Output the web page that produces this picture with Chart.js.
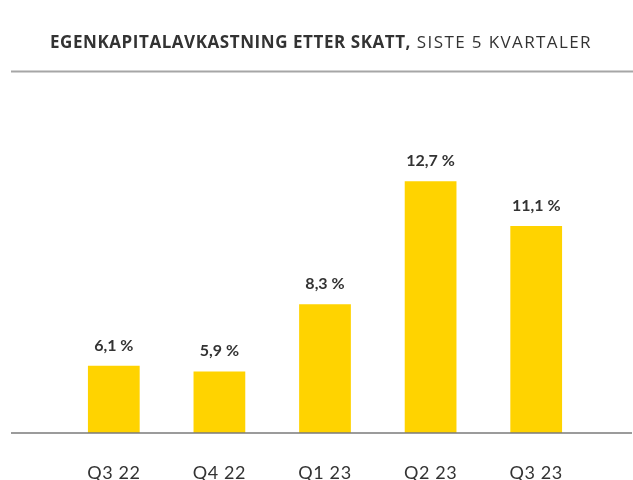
<!DOCTYPE html>
<html>
<head>
<meta charset="utf-8">
<script src="https://cdn.jsdelivr.net/npm/chart.js@4/dist/chart.umd.min.js"></script>
<style>
  html, body { margin: 0; padding: 0; background: #fff; }
  #wrap { width: 633px; height: 480px; }
</style>
</head>
<body>
<div id="wrap"><canvas id="c" width="633" height="480"></canvas></div>
<script>
const categories = ["Q3 22", "Q4 22", "Q1 23", "Q2 23", "Q3 23"];
const roeValues = [6.1, 5.9, 8.3, 12.7, 11.1];
const titleBold = "EGENKAPITALAVKASTNING ETTER SKATT,";
const titleRegular = " SISTE 5 KVARTALER";

const fmt = v => v.toFixed(1).replace(".", ",") + " %";

function fitText(ctx, text, font, target) {
  ctx.font = font;
  ctx.letterSpacing = "0px";
  const w = ctx.measureText(text).width;
  return (target - w) / text.length;
}

const decorPlugin = {
  id: "decor",
  beforeDraw(chart) {
    const ctx = chart.ctx;
    ctx.save();
    ctx.textBaseline = "middle";
    ctx.fillStyle = "#333333";
    const fb = "bold 17px 'Open Sans'";
    const fr = "17px 'Open Sans'";
    const sb = fitText(ctx, titleBold, fb, 361);
    const sr = fitText(ctx, titleRegular, fr, 181);
    ctx.textAlign = "left";
    ctx.font = fb;
    ctx.letterSpacing = sb + "px";
    ctx.fillText(titleBold, 50, 43);
    ctx.font = fr;
    ctx.letterSpacing = sr + "px";
    ctx.fillText(titleRegular, 411, 43);
    ctx.restore();
    ctx.save();
    ctx.strokeStyle = "#a6a6a6";
    ctx.lineWidth = 2;
    ctx.beginPath();
    ctx.moveTo(11, 71.5);
    ctx.lineTo(633, 71.5);
    ctx.stroke();
    ctx.restore();
    ctx.letterSpacing = "0.6px";
  },
  afterDatasetsDraw(chart) {
    const ctx = chart.ctx;
    const area = chart.chartArea;
    ctx.save();
    ctx.letterSpacing = "0px";
    ctx.strokeStyle = "#7a7a7a";
    ctx.lineWidth = 1.5;
    ctx.beginPath();
    ctx.moveTo(11, area.bottom);
    ctx.lineTo(632, area.bottom);
    ctx.stroke();
    const meta = chart.getDatasetMeta(0);
    ctx.font = "bold 16px Lato";
    ctx.fillStyle = "#333333";
    ctx.textAlign = "center";
    ctx.textBaseline = "alphabetic";
    meta.data.forEach((bar, i) => {
      ctx.fillText(fmt(roeValues[i]), bar.x, bar.y - 15);
    });
    ctx.restore();
  },
  afterDraw(chart) {
    chart.ctx.letterSpacing = "0px";
  }
};

new Chart(document.getElementById("c"), {
  type: "bar",
  data: {
    labels: categories,
    datasets: [{
      data: roeValues,
      backgroundColor: "#FFD300",
      borderWidth: 0,
      barPercentage: 0.49,
      categoryPercentage: 1.0
    }]
  },
  options: {
    responsive: false,
    animation: false,
    events: [],
    layout: { padding: { left: 61, right: 44, top: 100, bottom: 0 } },
    plugins: { legend: { display: false }, title: { display: false }, tooltip: { enabled: false } },
    scales: {
      x: {
        grid: { display: false, drawTicks: false },
        border: { display: false },
        ticks: { color: "#333333", font: { family: "Lato", size: 18 }, padding: 29 },
        afterFit(scale) { scale.height = 47; }
      },
      y: {
        display: false,
        min: 3.7,
        max: 15.6
      }
    }
  },
  plugins: [decorPlugin]
});
</script>
</body>
</html>
